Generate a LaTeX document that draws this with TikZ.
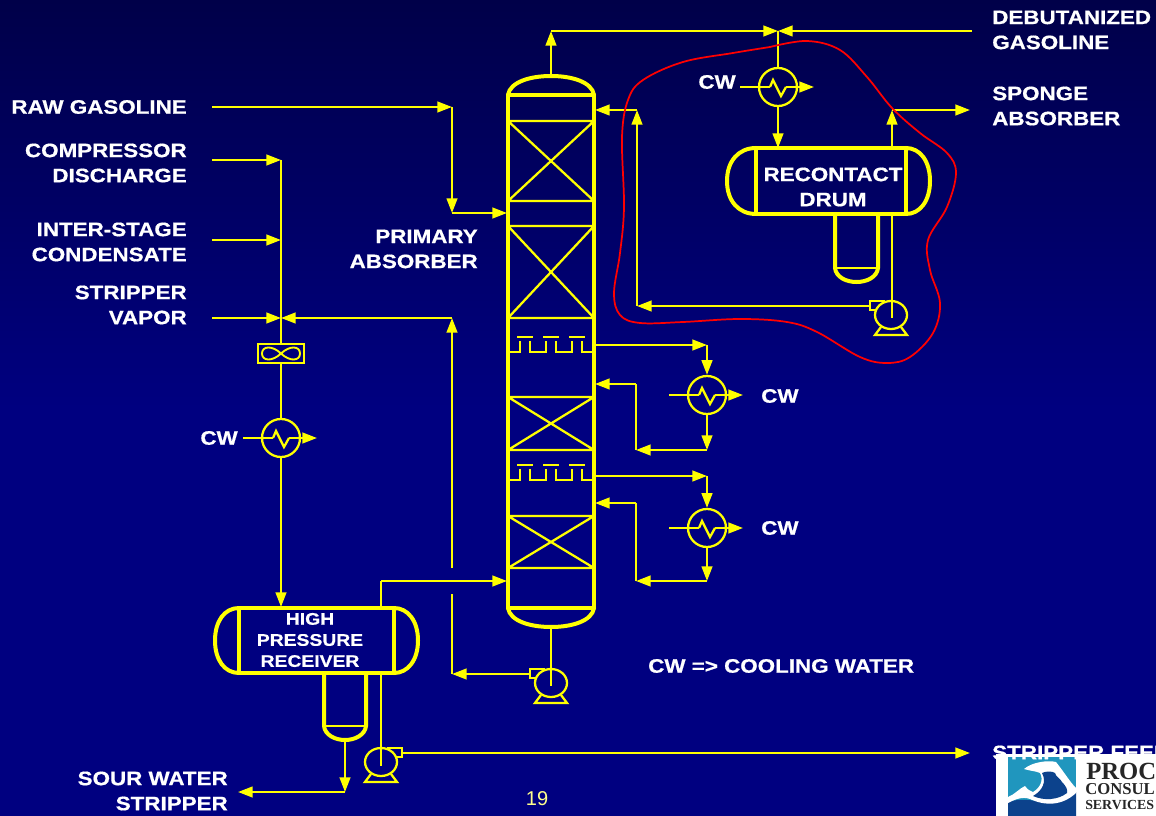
\documentclass[tikz,border=0pt]{standalone}
\usepackage{fontspec}
\setmainfont{Liberation Sans}
\newfontfamily\lblfont[FakeStretch=1.15,FakeBold=0.6]{Liberation Sans Bold}
\newfontfamily\logofont{Liberation Serif Bold}
\usetikzlibrary{arrows.meta,shapes.geometric}
\definecolor{pipe}{RGB}{255,255,0}
\definecolor{navy}{RGB}{0,0,128}
\definecolor{lab}{RGB}{255,255,255}
\definecolor{teal}{RGB}{32,150,190}
\definecolor{deep}{RGB}{12,66,140}
\pgfdeclareverticalshading{slide}{100bp}{color(0bp)=(navy); color(50bp)=(navy); color(100bp)=(navy!14!black)}
\newcommand{\exch}[3]{%
  \node[hx] (#1) at (#2,#3) {};
  \draw[thin pipe] (#2-8,#3) -- (#2-5,#3-7) -- (#2+3,#3+9) -- (#2+8,#3);
  \coordinate (#1w) at (#2-38,#3);
  \coordinate (#1k) at (#2-8,#3);
  \coordinate (#1q) at (#2+8,#3);
  \coordinate (#1e) at (#2+36,#3);
  \draw[thin pipe] (#1w) -- (#1k);
  \draw[flow] (#1q) -- (#1e);
}
\newcommand{\pumpdraw}[4]{% name, x, y, direction (-1 = nozzle left, 1 = right)
  \node[pumpbody] (#1) at (#2,#3) {};
  \draw[thin pipe] (#2-10,#3+12) -- (#2-16,#3+20) -- (#2+16,#3+20) -- (#2+10,#3+12);
  \draw[thin pipe] (#2+#4*6,#3-14) -- (#2+#4*21,#3-14) -- (#2+#4*21,#3-5) -- (#2+#4*14,#3-5);
  \coordinate (#1o) at (#2+#4*21,#3-9);
}
\newcommand{\vessel}[9]{% name,xl,xr,yt,yb,left head,sumpl,sumpr,sumpy
  \node[inner sep=0pt,minimum width=(#3-#2)*0.75pt,minimum height=(#5-#4)*0.75pt] (#1) at ({(#2+#3)/2},{(#4+#5)/2}) {};
  \draw[wall] (#2,#4) -- (#3,#4) (#2,#5) -- (#3,#5) (#2,#4) -- (#2,#5) (#3,#4) -- (#3,#5);
  \draw[wall] (#2,#4) .. controls (#2-0.6*#6,#4) and (#2-#6,#4+13) .. (#2-#6,{(#4+#5)/2}) .. controls (#2-#6,#5-13) and (#2-0.6*#6,#5) .. (#2,#5);
  \draw[wall] (#3,#4) .. controls (#3+14,#4) and (#3+24,#4+13) .. (#3+24,{(#4+#5)/2}) .. controls (#3+24,#5-13) and (#3+14,#5) .. (#3,#5);
  \draw[wall] (#7,#5) -- (#7,#9) .. controls (#7+1,#9+9) and (#7+11,#9+14) .. ({(#7+#8)/2},#9+14) .. controls (#8-11,#9+14) and (#8-1,#9+9) .. (#8,#9) -- (#8,#5);
  \draw[thin pipe] (#7,#9) -- (#8,#9);
}
\newcommand{\bed}[2]{%
  \draw[thin pipe] (508,#1) rectangle (594,#2) (508,#1) -- (594,#2) (508,#2) -- (594,#1);
}
\newcommand{\tray}[1]{%
  \draw[thin pipe] (517,#1-15) -- (533,#1-15) (543,#1-15) -- (559,#1-15) (569,#1-15) -- (585,#1-15);
  \draw[thin pipe] (508,#1) -- (520,#1) -- (520,#1-11) (530,#1-11) -- (530,#1) -- (546,#1) -- (546,#1-11) (556,#1-11) -- (556,#1) -- (572,#1) -- (572,#1-11) (582,#1-11) -- (582,#1) -- (594,#1);
}
\tikzset{
  x=0.75pt,y=-0.75pt,
  thin pipe/.style={draw=pipe,line width=1.7pt,line join=miter},
  flow/.style={thin pipe,-{Triangle[length=11pt,width=8pt]}},
  wall/.style={draw=pipe,line width=3pt,line cap=round},
  hx/.style={circle,draw=pipe,line width=1.7pt,minimum size=28.5pt,inner sep=0pt},
  pumpbody/.style={ellipse,draw=pipe,line width=1.7pt,minimum width=24pt,minimum height=21pt,inner sep=0pt},
  lbl/.style={text=lab,font=\lblfont\fontsize{14.6}{18.8}\selectfont,inner sep=0pt,align=right,anchor=east},
  lbll/.style={text=lab,font=\lblfont\fontsize{14.6}{18.8}\selectfont,inner sep=0pt,align=left,anchor=west},
  lblc/.style={text=lab,font=\lblfont\fontsize{14.6}{18.8}\selectfont,inner sep=0pt,align=center},
  redloop/.style={draw=red,line width=1.3pt},
}
\begin{document}
\begin{tikzpicture}
\useasboundingbox (0,0) rectangle (1156,816);
\clip (0,0) rectangle (1156,816);
\shade[shading=slide] (0,0) rectangle (1156,816);

% Column
\node[inner sep=0pt,minimum width=64.5pt,minimum height=384.75pt] (col) at (551,351.5) {};
\draw[wall] (508,95) -- (508,608) (594,95) -- (594,608) (508,95) -- (594,95) (508,608) -- (594,608);
\draw[wall] (508,95) .. controls (510,82) and (530,76) .. (551,76) .. controls (572,76) and (592,82) .. (594,95);
\draw[wall] (508,608) .. controls (510,621) and (530,627) .. (551,627) .. controls (572,627) and (592,621) .. (594,608);
\bed{121}{201}
\bed{226}{318}
\bed{397}{450}
\bed{516}{568}
\tray{352}
\tray{480}
\coordinate (coltop) at (551,76);
\coordinate (colbot) at (551,627);

% Vessels
\vessel{drum}{756}{906}{148}{214}{29}{835}{878}{268}
\vessel{hpr}{239}{394}{608}{673}{24}{324}{366}{726}

% Exchangers
\exch{exa}{778}{87}
\exch{exb}{707}{395}
\exch{exc}{707}{528}
\exch{exd}{281}{438}

% Pumps
\pumpdraw{pa}{891}{315}{-1}
\pumpdraw{pb}{551}{683}{-1}
\pumpdraw{pc}{381}{762}{1}

% Compressor
\node[draw=pipe,line width=1.5pt,minimum width=34.5pt,minimum height=14pt,inner sep=0pt] (comp) at (281,353.5) {};
\draw[thin pipe,line width=1.4pt] (281,353.5) .. controls (272,345) and (262,346) .. (262,353.5) .. controls (262,361) and (272,362) .. (281,353.5) .. controls (290,345) and (300,346) .. (300,353.5) .. controls (300,361) and (290,362) .. (281,353.5);

% Junctions
\coordinate (top) at (551,31);
\coordinate (tj) at (778,31);
\coordinate (debut) at (972,31);
\coordinate (sp1) at (892,110);
\coordinate (sp2) at (970,110);
\coordinate (rc) at (637,110);
\coordinate (rcin) at (595,110);
\coordinate (rcb) at (637,306);
\coordinate (pad) at (892,148);
\coordinate (pau) at (892,214);
\coordinate (pac) at (892,318);
\coordinate (raw0) at (212,107);
\coordinate (raw1) at (452,107);
\coordinate (raw2) at (452,213);
\coordinate (raw3) at (507,213);
\coordinate (cd0) at (212,160);
\coordinate (cd1) at (281,160);
\coordinate (ic0) at (212,240);
\coordinate (ic1) at (281,240);
\coordinate (sv0) at (212,318);
\coordinate (sv1) at (281,318);
\coordinate (sv2) at (452,318);
\coordinate (sv3) at (452,568);
\coordinate (bt0) at (452,594);
\coordinate (bt1) at (452,674);
\coordinate (ov0) at (381,608);
\coordinate (ov1) at (381,581);
\coordinate (ov2) at (507,581);
\coordinate (hb) at (381,673);
\coordinate (pcc) at (381,766);
\coordinate (sf) at (970,753);
\coordinate (sw0) at (345,740);
\coordinate (sw1) at (345,792);
\coordinate (sw2) at (238,792);
\coordinate (hxin) at (281,607);
\coordinate (a1) at (595,345);
\coordinate (a2) at (707,345);
\coordinate (a3) at (707,450);
\coordinate (a4) at (636,450);
\coordinate (a5) at (636,384);
\coordinate (a6) at (595,384);
\coordinate (b1) at (595,476);
\coordinate (b2) at (707,476);
\coordinate (b3) at (707,581);
\coordinate (b4) at (636,581);
\coordinate (b5) at (636,503);
\coordinate (b6) at (595,503);
\coordinate (pbc) at (551,686);

% Connectors
\draw[flow] (coltop) -- (top);
\draw[flow] (top) -- (tj);
\draw[flow] (debut) -- (tj);
\draw[thin pipe] (tj) -- (exa.north);
\draw[flow] (exa.south) -- (778,148);
\draw[flow] (pad) -- (sp1);
\draw[flow] (sp1) -- (sp2);
\draw[thin pipe] (pau) -- (pac);
\draw[flow] (pao) -- (rcb);
\draw[flow] (rcb) -- (rc);
\draw[flow] (rc) -- (rcin);
\draw[flow] (raw0) -- (raw1);
\draw[flow] (raw1) -- (raw2);
\draw[flow] (raw2) -- (raw3);
\draw[flow] (cd0) -- (cd1);
\draw[flow] (ic0) -- (ic1);
\draw[flow] (sv0) -- (sv1);
\draw[flow] (sv2) -- (sv1);
\draw[flow] (sv3) -- (sv2);
\draw[thin pipe] (cd1) -- (comp.north);
\draw[thin pipe] (comp.south) -- (exd.north);
\draw[flow] (exd.south) -- (hxin);
\draw[thin pipe] (ov0) -- (ov1);
\draw[flow] (ov1) -- (ov2);
\draw[thin pipe] (hb) -- (pcc);
\draw[flow] (pco) -- (sf);
\draw[flow] (sw0) -- (sw1);
\draw[flow] (sw1) -- (sw2);
\draw[thin pipe] (colbot) -- (pbc);
\draw[flow] (pbo) -- (bt1);
\draw[thin pipe] (bt0) -- (bt1);
\draw[flow] (a1) -- (a2);
\draw[flow] (a2) -- (exb.north);
\draw[flow] (exb.south) -- (a3);
\draw[flow] (a3) -- (a4);
\draw[thin pipe] (a4) -- (a5);
\draw[flow] (a5) -- (a6);
\draw[flow] (b1) -- (b2);
\draw[flow] (b2) -- (exc.north);
\draw[flow] (exc.south) -- (b3);
\draw[flow] (b3) -- (b4);
\draw[thin pipe] (b4) -- (b5);
\draw[flow] (b5) -- (b6);

% Red loop
\draw[redloop] plot[smooth,tension=0.6] coordinates {(770,47) (807,41) (840,50) (867,77) (892,108) (920,133) (947,153) (956,173) (947,207) (928,240) (930,270) (940,303) (933,333) (910,357) (887,363) (860,357) (817,332) (787,322) (740,319) (683,322) (640,323) (620,315) (614,293) (620,253) (624,207) (622,137) (628,100) (643,80) (683,62) (733,53) (770,47)};

% Labels
\node[lbl] (l1) at (187,107) {RAW GASOLINE};
\node[lbl] (l2) at (187,163) {COMPRESSOR\\DISCHARGE};
\node[lbl] (l3) at (187,242) {INTER-STAGE\\CONDENSATE};
\node[lbl] (l4) at (187,305) {STRIPPER\\VAPOR};
\node[lbl] (l5) at (478,249) {PRIMARY\\ABSORBER};
\node[lbl] (l6) at (228,791) {SOUR WATER\\STRIPPER};
\node[lbll] (l7) at (992,30) {DEBUTANIZED\\GASOLINE};
\node[lbll] (l8) at (992,106) {SPONGE\\ABSORBER};
\node[lblc] (l9) at (833,187) {RECONTACT\\DRUM};
\node[lblc,font=\lblfont\fontsize{12.6}{15.8}\selectfont] (l10) at (310,640) {HIGH\\PRESSURE\\RECEIVER};
\node[lbl] (l11) at (736,82) {CW};
\node[lbl] (l12) at (238,438) {CW};
\node[lbll] (l13) at (761,396) {CW};
\node[lbll] (l14) at (761,528) {CW};
\node[lbll] (l15) at (648,666) {CW => COOLING WATER};
\node[text=pipe!45!white,font=\fontsize{15}{18}\selectfont,inner sep=0pt] (l17) at (537,799) {19};

% Logo
\fill[white] (996,754) rectangle (1156,816);
\fill[teal] (1008,757) rectangle (1076,816);
\fill[deep] (1008,802) .. controls (1022,797) and (1040,802) .. (1052,803) .. controls (1062,802) and (1070,798) .. (1076,792) -- (1076,816) -- (1008,816) -- cycle;
\fill[white] (1024,769) .. controls (1032,762) and (1048,760) .. (1056,762) .. controls (1064,772) and (1070,782) .. (1076,788) -- (1076,793) .. controls (1062,806) and (1045,806) .. (1030,799) .. controls (1022,796) and (1014,800) .. (1008,803) -- (1008,797) .. controls (1014,795) and (1020,788) .. (1025,786) .. controls (1028,790) and (1030,791) .. (1033,792) .. controls (1040,788) and (1044,780) .. (1040,773) .. controls (1036,771) and (1030,771) .. (1024,769) -- cycle;
\fill[deep] (1042,773) .. controls (1046,771) and (1052,771) .. (1055,773) .. controls (1056,777) and (1060,778) .. (1062,782) .. controls (1066,786) and (1068,790) .. (1067,793) .. controls (1058,800) and (1044,801) .. (1033,796) .. controls (1042,791) and (1047,782) .. (1042,773) -- cycle;
\node[anchor=west,inner sep=0pt,text=black!85,font=\logofont\fontsize{18.5}{18.5}\selectfont] (g1) at (1086,771) {PROC};
\node[anchor=west,inner sep=0pt,text=black!85,font=\logofont\fontsize{12.5}{12.5}\selectfont] (g2) at (1085,789) {CONSUL};
\node[anchor=west,inner sep=0pt,text=black!85,font=\logofont\fontsize{10.4}{10.4}\selectfont] (g3) at (1085,805) {SERVICES};
\node[lbll] (l16) at (992,752.5) {STRIPPER FEED};
\end{tikzpicture}
\end{document}
